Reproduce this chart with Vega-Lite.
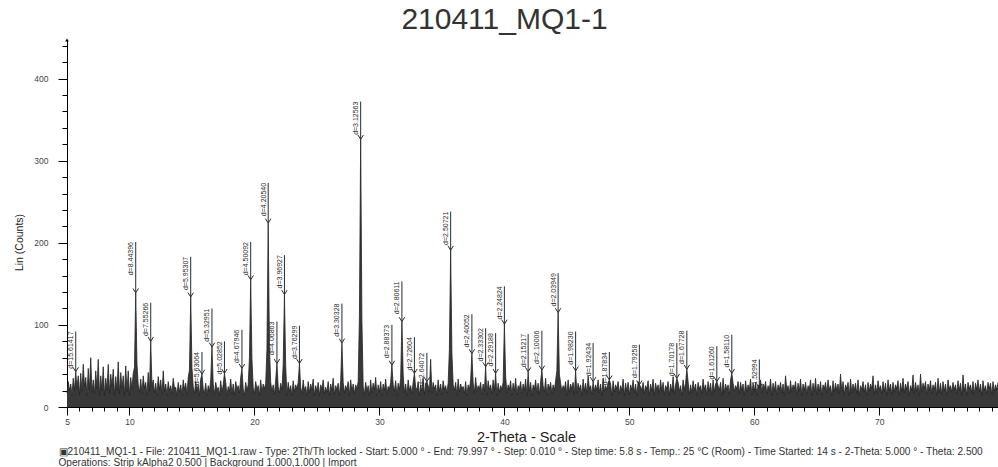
{
"$schema": "https://vega.github.io/schema/vega-lite/v6.json",
"width": 931, "height": 367,
"autosize": {"type": "none"},
"padding": {"left": 67, "top": 40, "right": 0, "bottom": 60},
"background": "white",
"config": {"view": {"stroke": null}, "font": "Liberation Sans"},
"title": {"text": "210411_MQ1-1", "fontSize": 30, "fontWeight": "normal", "color": "#333333", "anchor": "middle", "dx": -28, "offset": 2},
"datasets": {
"scan": [
{"t":5.0,"c":17},{"t":5.1,"c":31},{"t":5.2,"c":20},{"t":5.3,"c":28},{"t":5.4,"c":14},{"t":5.5,"c":35},{"t":5.6,"c":20},{"t":5.7,"c":43},{"t":5.8,"c":23},{"t":5.9,"c":38},
{"t":6.0,"c":15},{"t":6.1,"c":41},{"t":6.2,"c":19},{"t":6.3,"c":52},{"t":6.4,"c":25},{"t":6.5,"c":36},{"t":6.6,"c":14},{"t":6.7,"c":47},{"t":6.8,"c":21},{"t":6.9,"c":60},
{"t":7.0,"c":18},{"t":7.1,"c":33},{"t":7.2,"c":16},{"t":7.3,"c":44},{"t":7.4,"c":22},{"t":7.5,"c":58},{"t":7.6,"c":14},{"t":7.7,"c":38},{"t":7.8,"c":20},{"t":7.9,"c":49},
{"t":8.0,"c":14},{"t":8.1,"c":35},{"t":8.2,"c":21},{"t":8.3,"c":52},{"t":8.4,"c":17},{"t":8.5,"c":40},{"t":8.6,"c":25},{"t":8.7,"c":46},{"t":8.8,"c":14},{"t":8.9,"c":37},
{"t":9.0,"c":20},{"t":9.1,"c":55},{"t":9.2,"c":16},{"t":9.3,"c":42},{"t":9.4,"c":23},{"t":9.5,"c":38},{"t":9.6,"c":14},{"t":9.7,"c":50},{"t":9.8,"c":19},{"t":9.9,"c":44},
{"t":10.0,"c":14},{"t":10.1,"c":36},{"t":10.2,"c":22},{"t":10.3,"c":41},{"t":10.4,"c":48},{"t":10.5,"c":139},{"t":10.6,"c":52},{"t":10.7,"c":27},{"t":10.8,"c":18},{"t":10.9,"c":34},
{"t":11.0,"c":16},{"t":11.1,"c":38},{"t":11.2,"c":23},{"t":11.3,"c":30},{"t":11.4,"c":14},{"t":11.5,"c":42},{"t":11.6,"c":19},{"t":11.7,"c":80},{"t":11.8,"c":25},{"t":11.9,"c":33},
{"t":12.0,"c":17},{"t":12.1,"c":29},{"t":12.2,"c":14},{"t":12.3,"c":37},{"t":12.4,"c":21},{"t":12.5,"c":33},{"t":12.6,"c":15},{"t":12.7,"c":44},{"t":12.8,"c":19},{"t":12.9,"c":28},
{"t":13.0,"c":14},{"t":13.1,"c":31},{"t":13.2,"c":20},{"t":13.3,"c":26},{"t":13.4,"c":16},{"t":13.5,"c":35},{"t":13.6,"c":23},{"t":13.7,"c":24},{"t":13.8,"c":14},{"t":13.9,"c":30},
{"t":14.0,"c":18},{"t":14.1,"c":27},{"t":14.2,"c":14},{"t":14.3,"c":33},{"t":14.4,"c":21},{"t":14.5,"c":29},{"t":14.6,"c":15},{"t":14.7,"c":36},{"t":14.8,"c":45},{"t":14.9,"c":134},
{"t":15.0,"c":48},{"t":15.1,"c":25},{"t":15.2,"c":16},{"t":15.3,"c":31},{"t":15.4,"c":20},{"t":15.5,"c":27},{"t":15.6,"c":14},{"t":15.7,"c":34},{"t":15.8,"c":40},{"t":15.9,"c":22},
{"t":16.0,"c":17},{"t":16.1,"c":29},{"t":16.2,"c":14},{"t":16.3,"c":26},{"t":16.4,"c":19},{"t":16.5,"c":33},{"t":16.6,"c":73},{"t":16.7,"c":28},{"t":16.8,"c":15},{"t":16.9,"c":30},
{"t":17.0,"c":21},{"t":17.1,"c":24},{"t":17.2,"c":14},{"t":17.3,"c":32},{"t":17.4,"c":18},{"t":17.5,"c":27},{"t":17.6,"c":41},{"t":17.7,"c":30},{"t":17.8,"c":14},{"t":17.9,"c":25},
{"t":18.0,"c":19},{"t":18.1,"c":34},{"t":18.2,"c":16},{"t":18.3,"c":28},{"t":18.4,"c":14},{"t":18.5,"c":31},{"t":18.6,"c":22},{"t":18.7,"c":26},{"t":18.8,"c":17},{"t":18.9,"c":36},
{"t":19.0,"c":47},{"t":19.1,"c":22},{"t":19.2,"c":14},{"t":19.3,"c":30},{"t":19.4,"c":20},{"t":19.5,"c":27},{"t":19.6,"c":60},{"t":19.7,"c":155},{"t":19.8,"c":58},{"t":19.9,"c":24},
{"t":20.0,"c":16},{"t":20.1,"c":31},{"t":20.2,"c":21},{"t":20.3,"c":26},{"t":20.4,"c":14},{"t":20.5,"c":33},{"t":20.6,"c":18},{"t":20.7,"c":28},{"t":20.8,"c":22},{"t":20.9,"c":29},
{"t":21.0,"c":70},{"t":21.1,"c":224},{"t":21.2,"c":72},{"t":21.3,"c":30},{"t":21.4,"c":19},{"t":21.5,"c":27},{"t":21.6,"c":15},{"t":21.7,"c":33},{"t":21.8,"c":53},{"t":21.9,"c":25},
{"t":22.0,"c":17},{"t":22.1,"c":29},{"t":22.2,"c":21},{"t":22.3,"c":52},{"t":22.4,"c":137},{"t":22.5,"c":50},{"t":22.6,"c":14},{"t":22.7,"c":30},{"t":22.8,"c":19},{"t":22.9,"c":26},
{"t":23.0,"c":14},{"t":23.1,"c":32},{"t":23.2,"c":18},{"t":23.3,"c":27},{"t":23.4,"c":22},{"t":23.5,"c":30},{"t":23.6,"c":53},{"t":23.7,"c":24},{"t":23.8,"c":16},{"t":23.9,"c":33},
{"t":24.0,"c":20},{"t":24.1,"c":25},{"t":24.2,"c":14},{"t":24.3,"c":31},{"t":24.4,"c":17},{"t":24.5,"c":28},{"t":24.6,"c":21},{"t":24.7,"c":34},{"t":24.8,"c":14},{"t":24.9,"c":26},
{"t":25.0,"c":19},{"t":25.1,"c":30},{"t":25.2,"c":14},{"t":25.3,"c":27},{"t":25.4,"c":22},{"t":25.5,"c":33},{"t":25.6,"c":16},{"t":25.7,"c":24},{"t":25.8,"c":18},{"t":25.9,"c":31},
{"t":26.0,"c":14},{"t":26.1,"c":28},{"t":26.2,"c":20},{"t":26.3,"c":35},{"t":26.4,"c":15},{"t":26.5,"c":26},{"t":26.6,"c":21},{"t":26.7,"c":29},{"t":26.8,"c":14},{"t":26.9,"c":32},
{"t":27.0,"c":78},{"t":27.1,"c":30},{"t":27.2,"c":17},{"t":27.3,"c":26},{"t":27.4,"c":21},{"t":27.5,"c":31},{"t":27.6,"c":14},{"t":27.7,"c":33},{"t":27.8,"c":19},{"t":27.9,"c":28},
{"t":28.0,"c":16},{"t":28.1,"c":27},{"t":28.2,"c":22},{"t":28.3,"c":31},{"t":28.4,"c":110},{"t":28.5,"c":326},{"t":28.6,"c":105},{"t":28.7,"c":25},{"t":28.8,"c":15},{"t":28.9,"c":30},
{"t":29.0,"c":19},{"t":29.1,"c":26},{"t":29.2,"c":14},{"t":29.3,"c":33},{"t":29.4,"c":17},{"t":29.5,"c":29},{"t":29.6,"c":21},{"t":29.7,"c":36},{"t":29.8,"c":14},{"t":29.9,"c":27},
{"t":30.0,"c":18},{"t":30.1,"c":31},{"t":30.2,"c":14},{"t":30.3,"c":28},{"t":30.4,"c":20},{"t":30.5,"c":34},{"t":30.6,"c":16},{"t":30.7,"c":25},{"t":30.8,"c":22},{"t":30.9,"c":30},
{"t":31.0,"c":51},{"t":31.1,"c":27},{"t":31.2,"c":19},{"t":31.3,"c":32},{"t":31.4,"c":14},{"t":31.5,"c":29},{"t":31.6,"c":21},{"t":31.7,"c":35},{"t":31.8,"c":104},{"t":31.9,"c":40},
{"t":32.0,"c":17},{"t":32.1,"c":28},{"t":32.2,"c":14},{"t":32.3,"c":33},{"t":32.4,"c":20},{"t":32.5,"c":26},{"t":32.6,"c":16},{"t":32.7,"c":30},{"t":32.8,"c":41},{"t":32.9,"c":24},
{"t":33.0,"c":21},{"t":33.1,"c":31},{"t":33.2,"c":14},{"t":33.3,"c":27},{"t":33.4,"c":19},{"t":33.5,"c":35},{"t":33.6,"c":15},{"t":33.7,"c":29},{"t":33.8,"c":31},{"t":33.9,"c":26},
{"t":34.0,"c":18},{"t":34.1,"c":58},{"t":34.2,"c":16},{"t":34.3,"c":30},{"t":34.4,"c":22},{"t":34.5,"c":27},{"t":34.6,"c":14},{"t":34.7,"c":33},{"t":34.8,"c":19},{"t":34.9,"c":28},
{"t":35.0,"c":15},{"t":35.1,"c":32},{"t":35.2,"c":21},{"t":35.3,"c":26},{"t":35.4,"c":17},{"t":35.5,"c":29},{"t":35.6,"c":70},{"t":35.7,"c":191},{"t":35.8,"c":66},{"t":35.9,"c":27},
{"t":36.0,"c":20},{"t":36.1,"c":30},{"t":36.2,"c":14},{"t":36.3,"c":34},{"t":36.4,"c":18},{"t":36.5,"c":28},{"t":36.6,"c":22},{"t":36.7,"c":25},{"t":36.8,"c":16},{"t":36.9,"c":31},
{"t":37.0,"c":14},{"t":37.1,"c":27},{"t":37.2,"c":21},{"t":37.3,"c":33},{"t":37.4,"c":65},{"t":37.5,"c":29},{"t":37.6,"c":17},{"t":37.7,"c":36},{"t":37.8,"c":19},{"t":37.9,"c":26},
{"t":38.0,"c":22},{"t":38.1,"c":30},{"t":38.2,"c":15},{"t":38.3,"c":28},{"t":38.4,"c":19},{"t":38.5,"c":49},{"t":38.6,"c":14},{"t":38.7,"c":32},{"t":38.8,"c":21},{"t":38.9,"c":27},
{"t":39.0,"c":16},{"t":39.1,"c":33},{"t":39.2,"c":20},{"t":39.3,"c":41},{"t":39.4,"c":14},{"t":39.5,"c":29},{"t":39.6,"c":18},{"t":39.7,"c":26},{"t":39.8,"c":22},{"t":39.9,"c":30},
{"t":40.0,"c":101},{"t":40.1,"c":38},{"t":40.2,"c":17},{"t":40.3,"c":27},{"t":40.4,"c":21},{"t":40.5,"c":32},{"t":40.6,"c":14},{"t":40.7,"c":29},{"t":40.8,"c":19},{"t":40.9,"c":35},
{"t":41.0,"c":15},{"t":41.1,"c":26},{"t":41.2,"c":22},{"t":41.3,"c":31},{"t":41.4,"c":16},{"t":41.5,"c":28},{"t":41.6,"c":20},{"t":41.7,"c":34},{"t":41.8,"c":14},{"t":41.9,"c":43},
{"t":42.0,"c":19},{"t":42.1,"c":30},{"t":42.2,"c":14},{"t":42.3,"c":27},{"t":42.4,"c":21},{"t":42.5,"c":33},{"t":42.6,"c":17},{"t":42.7,"c":29},{"t":42.8,"c":15},{"t":42.9,"c":31},
{"t":43.0,"c":45},{"t":43.1,"c":26},{"t":43.2,"c":18},{"t":43.3,"c":35},{"t":43.4,"c":14},{"t":43.5,"c":28},{"t":43.6,"c":22},{"t":43.7,"c":30},{"t":43.8,"c":16},{"t":43.9,"c":27},
{"t":44.0,"c":20},{"t":44.1,"c":32},{"t":44.2,"c":44},{"t":44.3,"c":115},{"t":44.4,"c":40},{"t":44.5,"c":29},{"t":44.6,"c":19},{"t":44.7,"c":26},{"t":44.8,"c":21},{"t":44.9,"c":31},
{"t":45.0,"c":14},{"t":45.1,"c":33},{"t":45.2,"c":18},{"t":45.3,"c":28},{"t":45.4,"c":22},{"t":45.5,"c":30},{"t":45.6,"c":15},{"t":45.7,"c":44},{"t":45.8,"c":17},{"t":45.9,"c":29},
{"t":46.0,"c":21},{"t":46.1,"c":27},{"t":46.2,"c":14},{"t":46.3,"c":34},{"t":46.4,"c":19},{"t":46.5,"c":29},{"t":46.6,"c":16},{"t":46.7,"c":38},{"t":46.8,"c":22},{"t":46.9,"c":26},
{"t":47.0,"c":15},{"t":47.1,"c":31},{"t":47.2,"c":19},{"t":47.3,"c":27},{"t":47.4,"c":20},{"t":47.5,"c":33},{"t":47.6,"c":17},{"t":47.7,"c":28},{"t":47.8,"c":14},{"t":47.9,"c":35},
{"t":48.0,"c":19},{"t":48.1,"c":26},{"t":48.2,"c":21},{"t":48.3,"c":30},{"t":48.4,"c":33},{"t":48.5,"c":28},{"t":48.6,"c":14},{"t":48.7,"c":32},{"t":48.8,"c":18},{"t":48.9,"c":27},
{"t":49.0,"c":22},{"t":49.1,"c":31},{"t":49.2,"c":16},{"t":49.3,"c":26},{"t":49.4,"c":20},{"t":49.5,"c":34},{"t":49.6,"c":14},{"t":49.7,"c":29},{"t":49.8,"c":19},{"t":49.9,"c":30},
{"t":50.0,"c":15},{"t":50.1,"c":27},{"t":50.2,"c":21},{"t":50.3,"c":33},{"t":50.4,"c":17},{"t":50.5,"c":28},{"t":50.6,"c":14},{"t":50.7,"c":31},{"t":50.8,"c":27},{"t":50.9,"c":25},
{"t":51.0,"c":20},{"t":51.1,"c":30},{"t":51.2,"c":16},{"t":51.3,"c":26},{"t":51.4,"c":22},{"t":51.5,"c":32},{"t":51.6,"c":14},{"t":51.7,"c":28},{"t":51.8,"c":19},{"t":51.9,"c":34},
{"t":52.0,"c":14},{"t":52.1,"c":29},{"t":52.2,"c":21},{"t":52.3,"c":27},{"t":52.4,"c":17},{"t":52.5,"c":33},{"t":52.6,"c":19},{"t":52.7,"c":30},{"t":52.8,"c":15},{"t":52.9,"c":26},
{"t":53.0,"c":22},{"t":53.1,"c":31},{"t":53.2,"c":14},{"t":53.3,"c":28},{"t":53.4,"c":18},{"t":53.5,"c":37},{"t":53.6,"c":16},{"t":53.7,"c":27},{"t":53.8,"c":35},{"t":53.9,"c":30},
{"t":54.0,"c":19},{"t":54.1,"c":26},{"t":54.2,"c":14},{"t":54.3,"c":33},{"t":54.4,"c":21},{"t":54.5,"c":29},{"t":54.6,"c":46},{"t":54.7,"c":31},{"t":54.8,"c":15},{"t":54.9,"c":27},
{"t":55.0,"c":17},{"t":55.1,"c":32},{"t":55.2,"c":20},{"t":55.3,"c":28},{"t":55.4,"c":14},{"t":55.5,"c":30},{"t":55.6,"c":22},{"t":55.7,"c":26},{"t":55.8,"c":16},{"t":55.9,"c":34},
{"t":56.0,"c":21},{"t":56.1,"c":27},{"t":56.2,"c":15},{"t":56.3,"c":31},{"t":56.4,"c":19},{"t":56.5,"c":29},{"t":56.6,"c":14},{"t":56.7,"c":33},{"t":56.8,"c":18},{"t":56.9,"c":28},
{"t":57.0,"c":31},{"t":57.1,"c":26},{"t":57.2,"c":20},{"t":57.3,"c":30},{"t":57.4,"c":14},{"t":57.5,"c":35},{"t":57.6,"c":17},{"t":57.7,"c":28},{"t":57.8,"c":21},{"t":57.9,"c":27},
{"t":58.0,"c":15},{"t":58.1,"c":33},{"t":58.2,"c":41},{"t":58.3,"c":29},{"t":58.4,"c":19},{"t":58.5,"c":26},{"t":58.6,"c":22},{"t":58.7,"c":31},{"t":58.8,"c":16},{"t":58.9,"c":30},
{"t":59.0,"c":20},{"t":59.1,"c":28},{"t":59.2,"c":14},{"t":59.3,"c":32},{"t":59.4,"c":18},{"t":59.5,"c":27},{"t":59.6,"c":21},{"t":59.7,"c":34},{"t":59.8,"c":15},{"t":59.9,"c":29},
{"t":60.0,"c":19},{"t":60.1,"c":30},{"t":60.2,"c":14},{"t":60.3,"c":27},{"t":60.4,"c":23},{"t":60.5,"c":33},{"t":60.6,"c":17},{"t":60.7,"c":28},{"t":60.8,"c":22},{"t":60.9,"c":31},
{"t":61.0,"c":16},{"t":61.1,"c":26},{"t":61.2,"c":20},{"t":61.3,"c":34},{"t":61.4,"c":14},{"t":61.5,"c":29},{"t":61.6,"c":19},{"t":61.7,"c":31},{"t":61.8,"c":15},{"t":61.9,"c":27},
{"t":62.0,"c":21},{"t":62.1,"c":30},{"t":62.2,"c":17},{"t":62.3,"c":28},{"t":62.4,"c":14},{"t":62.5,"c":38},{"t":62.6,"c":20},{"t":62.7,"c":26},{"t":62.8,"c":16},{"t":62.9,"c":32},
{"t":63.0,"c":18},{"t":63.1,"c":27},{"t":63.2,"c":22},{"t":63.3,"c":31},{"t":63.4,"c":15},{"t":63.5,"c":29},{"t":63.6,"c":19},{"t":63.7,"c":34},{"t":63.8,"c":14},{"t":63.9,"c":28},
{"t":64.0,"c":20},{"t":64.1,"c":30},{"t":64.2,"c":16},{"t":64.3,"c":26},{"t":64.4,"c":21},{"t":64.5,"c":33},{"t":64.6,"c":14},{"t":64.7,"c":29},{"t":64.8,"c":18},{"t":64.9,"c":35},
{"t":65.0,"c":15},{"t":65.1,"c":28},{"t":65.2,"c":19},{"t":65.3,"c":31},{"t":65.4,"c":14},{"t":65.5,"c":27},{"t":65.6,"c":22},{"t":65.7,"c":30},{"t":65.8,"c":17},{"t":65.9,"c":33},
{"t":66.0,"c":21},{"t":66.1,"c":26},{"t":66.2,"c":14},{"t":66.3,"c":32},{"t":66.4,"c":18},{"t":66.5,"c":29},{"t":66.6,"c":20},{"t":66.7,"c":28},{"t":66.8,"c":16},{"t":66.9,"c":40},
{"t":67.0,"c":19},{"t":67.1,"c":31},{"t":67.2,"c":15},{"t":67.3,"c":27},{"t":67.4,"c":22},{"t":67.5,"c":30},{"t":67.6,"c":14},{"t":67.7,"c":34},{"t":67.8,"c":17},{"t":67.9,"c":28},
{"t":68.0,"c":20},{"t":68.1,"c":29},{"t":68.2,"c":16},{"t":68.3,"c":33},{"t":68.4,"c":14},{"t":68.5,"c":26},{"t":68.6,"c":21},{"t":68.7,"c":31},{"t":68.8,"c":18},{"t":68.9,"c":27},
{"t":69.0,"c":14},{"t":69.1,"c":30},{"t":69.2,"c":19},{"t":69.3,"c":28},{"t":69.4,"c":22},{"t":69.5,"c":38},{"t":69.6,"c":15},{"t":69.7,"c":27},{"t":69.8,"c":17},{"t":69.9,"c":32},
{"t":70.0,"c":21},{"t":70.1,"c":26},{"t":70.2,"c":16},{"t":70.3,"c":31},{"t":70.4,"c":19},{"t":70.5,"c":29},{"t":70.6,"c":14},{"t":70.7,"c":33},{"t":70.8,"c":20},{"t":70.9,"c":28},
{"t":71.0,"c":15},{"t":71.1,"c":30},{"t":71.2,"c":18},{"t":71.3,"c":27},{"t":71.4,"c":22},{"t":71.5,"c":32},{"t":71.6,"c":14},{"t":71.7,"c":29},{"t":71.8,"c":19},{"t":71.9,"c":35},
{"t":72.0,"c":17},{"t":72.1,"c":28},{"t":72.2,"c":21},{"t":72.3,"c":31},{"t":72.4,"c":14},{"t":72.5,"c":26},{"t":72.6,"c":20},{"t":72.7,"c":39},{"t":72.8,"c":16},{"t":72.9,"c":30},
{"t":73.0,"c":19},{"t":73.1,"c":27},{"t":73.2,"c":14},{"t":73.3,"c":40},{"t":73.4,"c":18},{"t":73.5,"c":29},{"t":73.6,"c":22},{"t":73.7,"c":31},{"t":73.8,"c":15},{"t":73.9,"c":28},
{"t":74.0,"c":20},{"t":74.1,"c":32},{"t":74.2,"c":16},{"t":74.3,"c":27},{"t":74.4,"c":21},{"t":74.5,"c":30},{"t":74.6,"c":14},{"t":74.7,"c":35},{"t":74.8,"c":17},{"t":74.9,"c":29},
{"t":75.0,"c":15},{"t":75.1,"c":31},{"t":75.2,"c":19},{"t":75.3,"c":28},{"t":75.4,"c":14},{"t":75.5,"c":33},{"t":75.6,"c":22},{"t":75.7,"c":26},{"t":75.8,"c":18},{"t":75.9,"c":30},
{"t":76.0,"c":21},{"t":76.1,"c":27},{"t":76.2,"c":16},{"t":76.3,"c":32},{"t":76.4,"c":20},{"t":76.5,"c":29},{"t":76.6,"c":14},{"t":76.7,"c":39},{"t":76.8,"c":19},{"t":76.9,"c":28},
{"t":77.0,"c":14},{"t":77.1,"c":30},{"t":77.2,"c":22},{"t":77.3,"c":27},{"t":77.4,"c":17},{"t":77.5,"c":31},{"t":77.6,"c":15},{"t":77.7,"c":29},{"t":77.8,"c":21},{"t":77.9,"c":33},
{"t":78.0,"c":18},{"t":78.1,"c":28},{"t":78.2,"c":14},{"t":78.3,"c":32},{"t":78.4,"c":20},{"t":78.5,"c":26},{"t":78.6,"c":16},{"t":78.7,"c":30},{"t":78.8,"c":22},{"t":78.9,"c":29},
{"t":79.0,"c":15},{"t":79.1,"c":31},{"t":79.2,"c":19},{"t":79.3,"c":27},{"t":79.4,"c":21},{"t":79.5,"c":30}
],
"peaks": [
{"t":5.7,"arrow":43,"top":92,"label":"d=15.61417"},
{"t":10.5,"arrow":139,"top":201,"label":"d=8.44396"},
{"t":11.7,"arrow":80,"top":127,"label":"d=7.55266"},
{"t":14.9,"arrow":134,"top":183,"label":"d=5.95307"},
{"t":15.8,"arrow":40,"top":67,"label":"d=5.63064"},
{"t":16.6,"arrow":73,"top":120,"label":"d=5.32951"},
{"t":17.6,"arrow":41,"top":80,"label":"d=5.02852"},
{"t":19.0,"arrow":47,"top":94,"label":"d=4.67946"},
{"t":19.7,"arrow":155,"top":201,"label":"d=4.50092"},
{"t":21.1,"arrow":224,"top":273,"label":"d=4.20540"},
{"t":21.8,"arrow":53,"top":104,"label":"d=4.06863"},
{"t":22.4,"arrow":137,"top":185,"label":"d=3.96927"},
{"t":23.6,"arrow":53,"top":99,"label":"d=3.76299"},
{"t":27.0,"arrow":78,"top":126,"label":"d=3.30328"},
{"t":28.5,"arrow":326,"top":372,"label":"d=3.12563"},
{"t":31.0,"arrow":51,"top":100,"label":"d=2.88373"},
{"t":31.8,"arrow":104,"top":153,"label":"d=2.80611"},
{"t":32.8,"arrow":41,"top":85,"label":"d=2.72604"},
{"t":33.8,"arrow":31,"top":66,"label":"d=2.64072"},
{"t":35.7,"arrow":191,"top":238,"label":"d=2.50721"},
{"t":37.4,"arrow":65,"top":113,"label":"d=2.40052"},
{"t":38.5,"arrow":49,"top":96,"label":"d=2.33302"},
{"t":39.3,"arrow":41,"top":90,"label":"d=2.29188"},
{"t":40.0,"arrow":101,"top":147,"label":"d=2.24824"},
{"t":41.9,"arrow":43,"top":89,"label":"d=2.15217"},
{"t":43.0,"arrow":45,"top":93,"label":"d=2.10006"},
{"t":44.3,"arrow":115,"top":163,"label":"d=2.03949"},
{"t":45.7,"arrow":44,"top":92,"label":"d=1.98230"},
{"t":47.1,"arrow":31,"top":78,"label":"d=1.92434"},
{"t":48.4,"arrow":33,"top":67,"label":"d=1.87834"},
{"t":50.8,"arrow":27,"top":76,"label":"d=1.79258"},
{"t":53.8,"arrow":35,"top":78,"label":"d=1.70178"},
{"t":54.6,"arrow":46,"top":93,"label":"d=1.67728"},
{"t":57.0,"arrow":31,"top":74,"label":"d=1.61260"},
{"t":58.2,"arrow":41,"top":88,"label":"d=1.58110"},
{"t":60.4,"arrow":23,"top":58,"label":"d=1.52994"}
],
"axistop": [{"t":5,"c":447}]
},
"resolve": {"axis": {"x": "independent", "y": "independent"}},
"layer": [
{
"data": {"name": "scan"},
"mark": {"type": "area", "color": "#383838", "opacity": 1},
"encoding": {
"x": {"field": "t", "type": "quantitative",
  "scale": {"domain": [5, 79.5], "nice": false, "zero": false},
  "axis": {"orient": "bottom", "values": [5,6,7,8,9,10,11,12,13,14,15,16,17,18,19,20,21,22,23,24,25,26,27,28,29,30,31,32,33,34,35,36,37,38,39,40,41,42,43,44,45,46,47,48,49,50,51,52,53,54,55,56,57,58,59,60,61,62,63,64,65,66,67,68,69,70,71,72,73,74,75,76,77,78,79],
    "labelExpr": "datum.value == 5 || datum.value % 10 == 0 ? datum.label : ''",
    "tickSize": {"condition": {"test": "datum.value == 5 || datum.value % 10 == 0", "value": 8}, "value": 4},
    "grid": false, "labelOverlap": false, "labelFlush": false,
    "domainColor": "#000000", "tickColor": "#000000", "labelColor": "#444444", "labelFontSize": 8.5, "labelPadding": 2,
    "title": "2-Theta - Scale", "titleFontSize": 14.5, "titleFontWeight": "normal", "titleColor": "#222222",
    "titleX": 459, "titleY": 30, "titleAlign": "center", "titleBaseline": "middle"}},
"y": {"field": "c", "type": "quantitative",
  "scale": {"domain": [0, 447], "nice": false, "zero": true},
  "axis": {"orient": "left", "values": [0,20,40,60,80,100,120,140,160,180,200,220,240,260,280,300,320,340,360,380,400,420,440],
    "labelExpr": "datum.value % 100 == 0 ? datum.label : ''",
    "tickSize": {"condition": {"test": "datum.value % 100 == 0", "value": 9}, "value": 5},
    "grid": false, "labelOverlap": false, "labelFlush": false,
    "domainColor": "#000000", "tickColor": "#000000", "labelColor": "#444444", "labelFontSize": 8.5, "labelPadding": 10,
    "title": "Lin (Counts)", "titleFontSize": 10.5, "titleFontWeight": "normal", "titleColor": "#222222",
    "titleX": -48, "titleY": 202, "titleAngle": 270, "titleAlign": "center", "titleBaseline": "middle"}}
}
},
{
"data": {"name": "scan"},
"mark": {"type": "line", "color": "#222222", "strokeWidth": 0.8},
"encoding": {
"x": {"field": "t", "type": "quantitative", "axis": null},
"y": {"field": "c", "type": "quantitative", "axis": null}
}
},
{
"data": {"name": "peaks"},
"mark": {"type": "rule", "color": "#2a2a2a", "strokeWidth": 1},
"encoding": {
"x": {"field": "t", "type": "quantitative", "axis": null},
"y": {"field": "arrow", "type": "quantitative", "axis": null},
"y2": {"field": "top"}
}
},
{
"data": {"name": "peaks"},
"mark": {"type": "point", "shape": "M-1,-1.6L0,0L1,-1.6", "filled": false, "size": 30, "strokeWidth": 1, "color": "#2a2a2a", "opacity": 1},
"encoding": {
"x": {"field": "t", "type": "quantitative", "axis": null},
"y": {"field": "arrow", "type": "quantitative", "axis": null}
}
},
{
"data": {"name": "peaks"},
"mark": {"type": "text", "angle": 270, "align": "right", "baseline": "bottom", "dy": -1.5, "fontSize": 7, "color": "#2a2a2a"},
"encoding": {
"x": {"field": "t", "type": "quantitative", "axis": null},
"y": {"field": "top", "type": "quantitative", "axis": null},
"text": {"field": "label"}
}
},
{
"data": {"name": "axistop"},
"mark": {"type": "point", "shape": "triangle-up", "filled": true, "size": 14, "color": "#000000", "opacity": 1},
"encoding": {
"x": {"field": "t", "type": "quantitative", "axis": null},
"y": {"field": "c", "type": "quantitative", "axis": null}
}
},
{
"data": {"name": "axistop"},
"mark": {"type": "point", "opacity": 0},
"encoding": {
"x": {"field": "t", "type": "quantitative",
  "axis": {"orient": "bottom", "domain": false, "ticks": false, "labels": false, "grid": false,
    "title": ["▣210411_MQ1-1 - File: 210411_MQ1-1.raw - Type: 2Th/Th locked - Start: 5.000 ° - End: 79.997 ° - Step: 0.010 ° - Step time: 5.8 s - Temp.: 25 °C (Room) - Time Started: 14 s - 2-Theta: 5.000 ° - Theta: 2.500", "\u00a0\u00a0\u00a0\u00a0\u00a0\u00a0\u00a0\u00a0Operations: Strip kAlpha2 0.500 | Background 1.000,1.000 | Import"],
    "titleFontSize": 10.1, "titleFontWeight": "normal", "titleColor": "#333333", "titleLineHeight": 11,
    "titleX": -9, "titleY": 47, "titleAlign": "left", "titleBaseline": "alphabetic", "titleAngle": 0}},
"y": {"field": "c", "type": "quantitative", "axis": null}
}
}
]
}
